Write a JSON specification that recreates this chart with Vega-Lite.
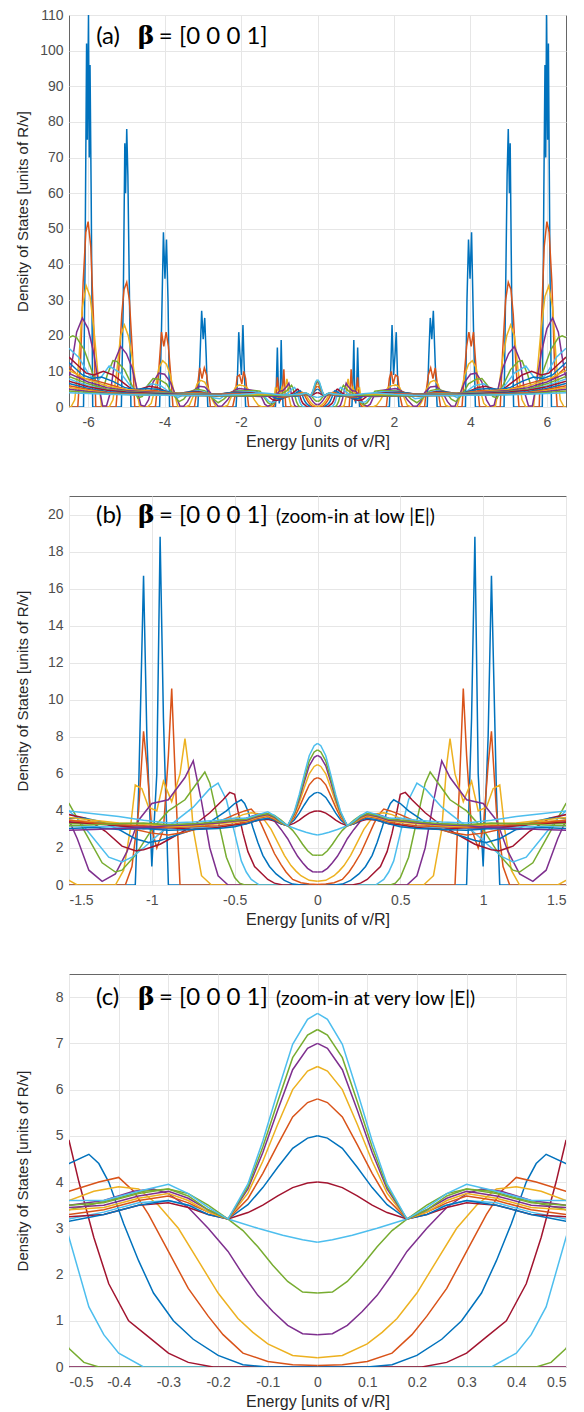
{
"$schema":"https://vega.github.io/schema/vega-lite/v6.json",
"background":"white",
"padding":{"left":14,"top":7,"right":10,"bottom":0},
"spacing":89,
"bounds":"flush",
"config":{
 "view":{"stroke":"#666666","strokeWidth":1},
 "axis":{"grid":true,"gridColor":"#e6e6e6","ticks":false,"domain":false,"labelOverlap":false,"labelFont":"Liberation Sans","labelFontSize":14,"labelColor":"#4d4d4d","titleFont":"Liberation Sans","titleFontSize":16,"titleFontWeight":"normal","titleColor":"#262626"},
 "axisX":{"labelPadding":8,"titlePadding":4},
 "axisY":{"labelPadding":6,"titleFontSize":15}
},
"datasets":{"dos":[
{"s":1,"x":0,"n":0,"y":0},{"s":1,"x":0.9,"n":-0.9,"y":0},{"s":1,"x":0.93,"n":-0.93,"y":9},{"s":1,"x":0.95,"n":-0.95,"y":18.8},{"s":1,"x":0.97,"n":-0.97,"y":6},{"s":1,"x":1,"n":-1,"y":1},{"s":1,"x":1.03,"n":-1.03,"y":8},{"s":1,"x":1.05,"n":-1.05,"y":16.7},{"s":1,"x":1.08,"n":-1.08,"y":5},{"s":1,"x":1.1,"n":-1.1,"y":0},
{"s":1,"x":1.88,"n":-1.88,"y":0},{"s":1,"x":1.92,"n":-1.92,"y":12},{"s":1,"x":1.95,"n":-1.95,"y":23},{"s":1,"x":1.99,"n":-1.99,"y":9},{"s":1,"x":2.03,"n":-2.03,"y":15},{"s":1,"x":2.06,"n":-2.06,"y":21},{"s":1,"x":2.1,"n":-2.1,"y":6},{"s":1,"x":2.13,"n":-2.13,"y":0},
{"s":1,"x":2.87,"n":-2.87,"y":0},{"s":1,"x":2.91,"n":-2.91,"y":14},{"s":1,"x":2.95,"n":-2.95,"y":25},{"s":1,"x":2.99,"n":-2.99,"y":19},{"s":1,"x":3.03,"n":-3.03,"y":27},{"s":1,"x":3.08,"n":-3.08,"y":12},{"s":1,"x":3.13,"n":-3.13,"y":0},
{"s":1,"x":3.87,"n":-3.87,"y":0},{"s":1,"x":3.91,"n":-3.91,"y":30},{"s":1,"x":3.95,"n":-3.95,"y":47},{"s":1,"x":3.99,"n":-3.99,"y":36},{"s":1,"x":4.03,"n":-4.03,"y":49},{"s":1,"x":4.08,"n":-4.08,"y":22},{"s":1,"x":4.13,"n":-4.13,"y":0},
{"s":1,"x":4.88,"n":-4.88,"y":0},{"s":1,"x":4.93,"n":-4.93,"y":40},{"s":1,"x":4.96,"n":-4.96,"y":65},{"s":1,"x":4.99,"n":-4.99,"y":78},{"s":1,"x":5.02,"n":-5.02,"y":60},{"s":1,"x":5.04,"n":-5.04,"y":74},{"s":1,"x":5.08,"n":-5.08,"y":30},{"s":1,"x":5.13,"n":-5.13,"y":0},
{"s":1,"x":5.88,"n":-5.88,"y":0},{"s":1,"x":5.92,"n":-5.92,"y":60},{"s":1,"x":5.95,"n":-5.95,"y":96},{"s":1,"x":5.97,"n":-5.97,"y":70},{"s":1,"x":5.99,"n":-5.99,"y":110},{"s":1,"x":6.02,"n":-6.02,"y":75},{"s":1,"x":6.04,"n":-6.04,"y":102},{"s":1,"x":6.08,"n":-6.08,"y":40},{"s":1,"x":6.12,"n":-6.12,"y":0},{"s":1,"x":6.5,"n":-6.5,"y":0},
{"s":2,"x":0,"n":0,"y":0},{"s":2,"x":0.83,"n":-0.83,"y":0},{"s":2,"x":0.855,"n":-0.855,"y":5},{"s":2,"x":0.88,"n":-0.88,"y":10.6},{"s":2,"x":0.9,"n":-0.9,"y":7},{"s":2,"x":0.93,"n":-0.93,"y":3},{"s":2,"x":0.97,"n":-0.97,"y":2},{"s":2,"x":1,"n":-1,"y":3},{"s":2,"x":1.03,"n":-1.03,"y":6.5},{"s":2,"x":1.05,"n":-1.05,"y":8.3},{"s":2,"x":1.08,"n":-1.08,"y":4},{"s":2,"x":1.12,"n":-1.12,"y":1},{"s":2,"x":1.16,"n":-1.16,"y":0},
{"s":2,"x":1.8,"n":-1.8,"y":0},{"s":2,"x":1.84,"n":-1.84,"y":4},{"s":2,"x":1.88,"n":-1.88,"y":8},{"s":2,"x":1.93,"n":-1.93,"y":10},{"s":2,"x":1.98,"n":-1.98,"y":6.5},{"s":2,"x":2.04,"n":-2.04,"y":9},{"s":2,"x":2.1,"n":-2.1,"y":8.5},{"s":2,"x":2.16,"n":-2.16,"y":3},{"s":2,"x":2.22,"n":-2.22,"y":0},
{"s":2,"x":2.8,"n":-2.8,"y":0},{"s":2,"x":2.85,"n":-2.85,"y":5},{"s":2,"x":2.9,"n":-2.9,"y":9},{"s":2,"x":2.96,"n":-2.96,"y":11},{"s":2,"x":3.02,"n":-3.02,"y":8},{"s":2,"x":3.08,"n":-3.08,"y":11},{"s":2,"x":3.15,"n":-3.15,"y":5},{"s":2,"x":3.22,"n":-3.22,"y":0},
{"s":2,"x":3.78,"n":-3.78,"y":0},{"s":2,"x":3.84,"n":-3.84,"y":9},{"s":2,"x":3.9,"n":-3.9,"y":17},{"s":2,"x":3.96,"n":-3.96,"y":21},{"s":2,"x":4.02,"n":-4.02,"y":17},{"s":2,"x":4.08,"n":-4.08,"y":21},{"s":2,"x":4.16,"n":-4.16,"y":9},{"s":2,"x":4.24,"n":-4.24,"y":0},
{"s":2,"x":4.78,"n":-4.78,"y":0},{"s":2,"x":4.84,"n":-4.84,"y":15},{"s":2,"x":4.92,"n":-4.92,"y":30},{"s":2,"x":4.99,"n":-4.99,"y":35},{"s":2,"x":5.06,"n":-5.06,"y":33},{"s":2,"x":5.12,"n":-5.12,"y":26},{"s":2,"x":5.2,"n":-5.2,"y":10},{"s":2,"x":5.27,"n":-5.27,"y":0},
{"s":2,"x":5.8,"n":-5.8,"y":0},{"s":2,"x":5.86,"n":-5.86,"y":25},{"s":2,"x":5.93,"n":-5.93,"y":45},{"s":2,"x":6,"n":-6,"y":52},{"s":2,"x":6.06,"n":-6.06,"y":49},{"s":2,"x":6.13,"n":-6.13,"y":35},{"s":2,"x":6.2,"n":-6.2,"y":12},{"s":2,"x":6.27,"n":-6.27,"y":0},{"s":2,"x":6.5,"n":-6.5,"y":0},
{"s":3,"x":0,"n":0,"y":0},{"s":3,"x":0.64,"n":-0.64,"y":0},{"s":3,"x":0.7,"n":-0.7,"y":0.5},{"s":3,"x":0.75,"n":-0.75,"y":3},{"s":3,"x":0.78,"n":-0.78,"y":6.5},{"s":3,"x":0.8,"n":-0.8,"y":7.9},{"s":3,"x":0.83,"n":-0.83,"y":6},{"s":3,"x":0.88,"n":-0.88,"y":4.5},{"s":3,"x":0.93,"n":-0.93,"y":5.6},{"s":3,"x":0.97,"n":-0.97,"y":4},{"s":3,"x":1.02,"n":-1.02,"y":4.2},{"s":3,"x":1.06,"n":-1.06,"y":5.2},{"s":3,"x":1.1,"n":-1.1,"y":5.4},{"s":3,"x":1.13,"n":-1.13,"y":3},{"s":3,"x":1.17,"n":-1.17,"y":0.8},{"s":3,"x":1.22,"n":-1.22,"y":0},
{"s":3,"x":1.45,"n":-1.45,"y":0},{"s":3,"x":1.55,"n":-1.55,"y":0.5},{"s":3,"x":1.65,"n":-1.65,"y":2},{"s":3,"x":1.75,"n":-1.75,"y":4},{"s":3,"x":1.85,"n":-1.85,"y":5.5},{"s":3,"x":1.95,"n":-1.95,"y":6},{"s":3,"x":2.05,"n":-2.05,"y":6.2},{"s":3,"x":2.15,"n":-2.15,"y":5.5},{"s":3,"x":2.25,"n":-2.25,"y":3},{"s":3,"x":2.35,"n":-2.35,"y":0.5},{"s":3,"x":2.45,"n":-2.45,"y":0},
{"s":3,"x":2.65,"n":-2.65,"y":0},{"s":3,"x":2.75,"n":-2.75,"y":2},{"s":3,"x":2.85,"n":-2.85,"y":5},{"s":3,"x":2.95,"n":-2.95,"y":7},{"s":3,"x":3.05,"n":-3.05,"y":7.5},{"s":3,"x":3.15,"n":-3.15,"y":6.5},{"s":3,"x":3.25,"n":-3.25,"y":3},{"s":3,"x":3.35,"n":-3.35,"y":0.5},{"s":3,"x":3.45,"n":-3.45,"y":0},
{"s":3,"x":3.65,"n":-3.65,"y":0},{"s":3,"x":3.75,"n":-3.75,"y":4},{"s":3,"x":3.85,"n":-3.85,"y":9},{"s":3,"x":3.95,"n":-3.95,"y":12},{"s":3,"x":4.05,"n":-4.05,"y":13},{"s":3,"x":4.15,"n":-4.15,"y":11},{"s":3,"x":4.25,"n":-4.25,"y":5},{"s":3,"x":4.35,"n":-4.35,"y":1},{"s":3,"x":4.45,"n":-4.45,"y":0},
{"s":3,"x":4.65,"n":-4.65,"y":0},{"s":3,"x":4.75,"n":-4.75,"y":6},{"s":3,"x":4.85,"n":-4.85,"y":14},{"s":3,"x":4.95,"n":-4.95,"y":20},{"s":3,"x":5.05,"n":-5.05,"y":23},{"s":3,"x":5.15,"n":-5.15,"y":20},{"s":3,"x":5.25,"n":-5.25,"y":10},{"s":3,"x":5.35,"n":-5.35,"y":2},{"s":3,"x":5.45,"n":-5.45,"y":0},
{"s":3,"x":5.65,"n":-5.65,"y":0},{"s":3,"x":5.75,"n":-5.75,"y":10},{"s":3,"x":5.85,"n":-5.85,"y":22},{"s":3,"x":5.95,"n":-5.95,"y":31},{"s":3,"x":6.05,"n":-6.05,"y":34},{"s":3,"x":6.15,"n":-6.15,"y":28},{"s":3,"x":6.25,"n":-6.25,"y":12},{"s":3,"x":6.35,"n":-6.35,"y":2},{"s":3,"x":6.45,"n":-6.45,"y":0},{"s":3,"x":6.5,"n":-6.5,"y":0},
{"s":4,"x":0,"n":0,"y":0},{"s":4,"x":0.54,"n":-0.54,"y":0},{"s":4,"x":0.6,"n":-0.6,"y":0.5},{"s":4,"x":0.65,"n":-0.65,"y":2},{"s":4,"x":0.7,"n":-0.7,"y":4.5},{"s":4,"x":0.75,"n":-0.75,"y":6.7},{"s":4,"x":0.8,"n":-0.8,"y":5.8},{"s":4,"x":0.9,"n":-0.9,"y":4.6},{"s":4,"x":1,"n":-1,"y":4.4},{"s":4,"x":1.08,"n":-1.08,"y":3.5},{"s":4,"x":1.15,"n":-1.15,"y":1.8},{"s":4,"x":1.22,"n":-1.22,"y":0.6},{"s":4,"x":1.3,"n":-1.3,"y":0.2},{"s":4,"x":1.38,"n":-1.38,"y":0.8},{"s":4,"x":1.45,"n":-1.45,"y":2.5},{"s":4,"x":1.5,"n":-1.5,"y":3.5},
{"s":4,"x":1.6,"n":-1.6,"y":4.5},{"s":4,"x":1.75,"n":-1.75,"y":4.8},{"s":4,"x":1.9,"n":-1.9,"y":5},{"s":4,"x":2.05,"n":-2.05,"y":5.2},{"s":4,"x":2.2,"n":-2.2,"y":4.5},{"s":4,"x":2.35,"n":-2.35,"y":2},{"s":4,"x":2.5,"n":-2.5,"y":0.3},{"s":4,"x":2.6,"n":-2.6,"y":0.2},{"s":4,"x":2.7,"n":-2.7,"y":1.5},{"s":4,"x":2.8,"n":-2.8,"y":4},{"s":4,"x":2.95,"n":-2.95,"y":5.6},{"s":4,"x":3.1,"n":-3.1,"y":5.8},{"s":4,"x":3.25,"n":-3.25,"y":4.5},{"s":4,"x":3.4,"n":-3.4,"y":1.5},{"s":4,"x":3.5,"n":-3.5,"y":0.2},{"s":4,"x":3.6,"n":-3.6,"y":0.3},{"s":4,"x":3.7,"n":-3.7,"y":3},{"s":4,"x":3.85,"n":-3.85,"y":7},{"s":4,"x":4,"n":-4,"y":9.2},{"s":4,"x":4.15,"n":-4.15,"y":9.5},{"s":4,"x":4.3,"n":-4.3,"y":7},{"s":4,"x":4.42,"n":-4.42,"y":2},{"s":4,"x":4.52,"n":-4.52,"y":0.2},{"s":4,"x":4.62,"n":-4.62,"y":0.5},{"s":4,"x":4.72,"n":-4.72,"y":5},{"s":4,"x":4.85,"n":-4.85,"y":11},{"s":4,"x":5,"n":-5,"y":15},{"s":4,"x":5.15,"n":-5.15,"y":17},{"s":4,"x":5.3,"n":-5.3,"y":13},{"s":4,"x":5.42,"n":-5.42,"y":4},{"s":4,"x":5.52,"n":-5.52,"y":0.3},{"s":4,"x":5.62,"n":-5.62,"y":0.3},{"s":4,"x":5.72,"n":-5.72,"y":6},{"s":4,"x":5.85,"n":-5.85,"y":15},{"s":4,"x":6,"n":-6,"y":22},{"s":4,"x":6.15,"n":-6.15,"y":25},{"s":4,"x":6.3,"n":-6.3,"y":21},{"s":4,"x":6.4,"n":-6.4,"y":14},{"s":4,"x":6.5,"n":-6.5,"y":8},
{"s":5,"x":0,"n":0,"y":0},{"s":5,"x":0.44,"n":-0.44,"y":0},{"s":5,"x":0.47,"n":-0.47,"y":0.1},{"s":5,"x":0.5,"n":-0.5,"y":0.4},{"s":5,"x":0.55,"n":-0.55,"y":1.5},{"s":5,"x":0.6,"n":-0.6,"y":3.5},{"s":5,"x":0.65,"n":-0.65,"y":5.5},{"s":5,"x":0.68,"n":-0.68,"y":6.1},{"s":5,"x":0.72,"n":-0.72,"y":5.6},{"s":5,"x":0.8,"n":-0.8,"y":4.6},{"s":5,"x":0.9,"n":-0.9,"y":4},{"s":5,"x":1,"n":-1,"y":3},{"s":5,"x":1.1,"n":-1.1,"y":1.6},{"s":5,"x":1.18,"n":-1.18,"y":0.8},{"s":5,"x":1.22,"n":-1.22,"y":0.7},{"s":5,"x":1.3,"n":-1.3,"y":1.2},{"s":5,"x":1.4,"n":-1.4,"y":2.8},{"s":5,"x":1.5,"n":-1.5,"y":4.4},
{"s":5,"x":1.65,"n":-1.65,"y":4.6},{"s":5,"x":1.85,"n":-1.85,"y":4.5},{"s":5,"x":2.05,"n":-2.05,"y":4.6},{"s":5,"x":2.25,"n":-2.25,"y":4.2},{"s":5,"x":2.45,"n":-2.45,"y":2.2},{"s":5,"x":2.6,"n":-2.6,"y":1.2},{"s":5,"x":2.75,"n":-2.75,"y":2.5},{"s":5,"x":2.95,"n":-2.95,"y":4.6},{"s":5,"x":3.15,"n":-3.15,"y":5},{"s":5,"x":3.35,"n":-3.35,"y":4.3},{"s":5,"x":3.5,"n":-3.5,"y":2.2},{"s":5,"x":3.62,"n":-3.62,"y":1.5},{"s":5,"x":3.78,"n":-3.78,"y":3.5},{"s":5,"x":3.95,"n":-3.95,"y":6.5},{"s":5,"x":4.15,"n":-4.15,"y":7.8},{"s":5,"x":4.3,"n":-4.3,"y":8},{"s":5,"x":4.45,"n":-4.45,"y":6},{"s":5,"x":4.58,"n":-4.58,"y":3},{"s":5,"x":4.7,"n":-4.7,"y":2.5},{"s":5,"x":4.85,"n":-4.85,"y":6},{"s":5,"x":5.05,"n":-5.05,"y":10.5},{"s":5,"x":5.25,"n":-5.25,"y":12.8},{"s":5,"x":5.35,"n":-5.35,"y":13},{"s":5,"x":5.5,"n":-5.5,"y":9},{"s":5,"x":5.62,"n":-5.62,"y":4.5},{"s":5,"x":5.75,"n":-5.75,"y":5},{"s":5,"x":5.9,"n":-5.9,"y":10},{"s":5,"x":6.1,"n":-6.1,"y":16},{"s":5,"x":6.3,"n":-6.3,"y":19.5},{"s":5,"x":6.4,"n":-6.4,"y":20},{"s":5,"x":6.5,"n":-6.5,"y":19.5},
{"s":6,"x":0,"n":0,"y":0},{"s":6,"x":0.35,"n":-0.35,"y":0},{"s":6,"x":0.4,"n":-0.4,"y":0.3},{"s":6,"x":0.43,"n":-0.43,"y":0.7},{"s":6,"x":0.46,"n":-0.46,"y":1.3},{"s":6,"x":0.5,"n":-0.5,"y":2.8},{"s":6,"x":0.55,"n":-0.55,"y":4.6},{"s":6,"x":0.6,"n":-0.6,"y":5.5},{"s":6,"x":0.65,"n":-0.65,"y":5.2},{"s":6,"x":0.75,"n":-0.75,"y":4.2},{"s":6,"x":0.85,"n":-0.85,"y":3.5},{"s":6,"x":0.95,"n":-0.95,"y":2.8},{"s":6,"x":1.05,"n":-1.05,"y":2},{"s":6,"x":1.12,"n":-1.12,"y":1.5},{"s":6,"x":1.18,"n":-1.18,"y":1.25},{"s":6,"x":1.26,"n":-1.26,"y":1.5},{"s":6,"x":1.35,"n":-1.35,"y":2.5},{"s":6,"x":1.45,"n":-1.45,"y":3.6},{"s":6,"x":1.5,"n":-1.5,"y":4},
{"s":6,"x":1.7,"n":-1.7,"y":4.3},{"s":6,"x":1.9,"n":-1.9,"y":4.3},{"s":6,"x":2.1,"n":-2.1,"y":4.4},{"s":6,"x":2.35,"n":-2.35,"y":3.8},{"s":6,"x":2.55,"n":-2.55,"y":2.3},{"s":6,"x":2.7,"n":-2.7,"y":2.5},{"s":6,"x":2.95,"n":-2.95,"y":4.2},{"s":6,"x":3.2,"n":-3.2,"y":4.6},{"s":6,"x":3.45,"n":-3.45,"y":3.8},{"s":6,"x":3.65,"n":-3.65,"y":2.6},{"s":6,"x":3.85,"n":-3.85,"y":4},{"s":6,"x":4.1,"n":-4.1,"y":6},{"s":6,"x":4.35,"n":-4.35,"y":6.5},{"s":6,"x":4.55,"n":-4.55,"y":5},{"s":6,"x":4.72,"n":-4.72,"y":3.8},{"s":6,"x":4.9,"n":-4.9,"y":6},{"s":6,"x":5.15,"n":-5.15,"y":9.5},{"s":6,"x":5.45,"n":-5.45,"y":11.5},{"s":6,"x":5.65,"n":-5.65,"y":8.5},{"s":6,"x":5.8,"n":-5.8,"y":7},{"s":6,"x":6,"n":-6,"y":9.5},{"s":6,"x":6.25,"n":-6.25,"y":14},{"s":6,"x":6.5,"n":-6.5,"y":16.5},
{"s":7,"x":0,"n":0,"y":0},{"s":7,"x":0.21,"n":-0.21,"y":0},{"s":7,"x":0.26,"n":-0.26,"y":0.1},{"s":7,"x":0.3,"n":-0.3,"y":0.3},{"s":7,"x":0.34,"n":-0.34,"y":0.65},{"s":7,"x":0.38,"n":-0.38,"y":1},{"s":7,"x":0.42,"n":-0.42,"y":1.8},{"s":7,"x":0.45,"n":-0.45,"y":2.8},{"s":7,"x":0.48,"n":-0.48,"y":4},{"s":7,"x":0.5,"n":-0.5,"y":4.9},{"s":7,"x":0.53,"n":-0.53,"y":5},{"s":7,"x":0.57,"n":-0.57,"y":4.6},{"s":7,"x":0.65,"n":-0.65,"y":3.9},{"s":7,"x":0.75,"n":-0.75,"y":3.2},{"s":7,"x":0.85,"n":-0.85,"y":2.7},{"s":7,"x":0.95,"n":-0.95,"y":2.2},{"s":7,"x":1.05,"n":-1.05,"y":1.9},{"s":7,"x":1.1,"n":-1.1,"y":1.85},{"s":7,"x":1.18,"n":-1.18,"y":2.1},{"s":7,"x":1.28,"n":-1.28,"y":2.9},{"s":7,"x":1.4,"n":-1.4,"y":3.6},{"s":7,"x":1.5,"n":-1.5,"y":3.8},
{"s":7,"x":1.7,"n":-1.7,"y":4},{"s":7,"x":1.95,"n":-1.95,"y":4.1},{"s":7,"x":2.2,"n":-2.2,"y":4.2},{"s":7,"x":2.45,"n":-2.45,"y":3.7},{"s":7,"x":2.65,"n":-2.65,"y":3},{"s":7,"x":2.85,"n":-2.85,"y":3.6},{"s":7,"x":3.05,"n":-3.05,"y":4.2},{"s":7,"x":3.25,"n":-3.25,"y":4.4},{"s":7,"x":3.5,"n":-3.5,"y":4},{"s":7,"x":3.75,"n":-3.75,"y":3.6},{"s":7,"x":4,"n":-4,"y":4.6},{"s":7,"x":4.2,"n":-4.2,"y":5.5},{"s":7,"x":4.4,"n":-4.4,"y":5.8},{"s":7,"x":4.65,"n":-4.65,"y":5},{"s":7,"x":4.85,"n":-4.85,"y":4.9},{"s":7,"x":5.1,"n":-5.1,"y":7},{"s":7,"x":5.35,"n":-5.35,"y":9},{"s":7,"x":5.6,"n":-5.6,"y":10},{"s":7,"x":5.85,"n":-5.85,"y":9},{"s":7,"x":6.05,"n":-6.05,"y":9.5},{"s":7,"x":6.3,"n":-6.3,"y":12},{"s":7,"x":6.5,"n":-6.5,"y":14},
{"s":8,"x":0,"n":0,"y":0},{"s":8,"x":0.1,"n":-0.1,"y":0},{"s":8,"x":0.15,"n":-0.15,"y":0.05},{"s":8,"x":0.2,"n":-0.2,"y":0.25},{"s":8,"x":0.25,"n":-0.25,"y":0.6},{"s":8,"x":0.29,"n":-0.29,"y":1},{"s":8,"x":0.33,"n":-0.33,"y":1.6},{"s":8,"x":0.36,"n":-0.36,"y":2.3},{"s":8,"x":0.39,"n":-0.39,"y":3.1},{"s":8,"x":0.42,"n":-0.42,"y":4},{"s":8,"x":0.44,"n":-0.44,"y":4.4},{"s":8,"x":0.46,"n":-0.46,"y":4.6},{"s":8,"x":0.5,"n":-0.5,"y":4.4},{"s":8,"x":0.55,"n":-0.55,"y":4},{"s":8,"x":0.65,"n":-0.65,"y":3.4},{"s":8,"x":0.75,"n":-0.75,"y":3},{"s":8,"x":0.85,"n":-0.85,"y":2.7},{"s":8,"x":0.95,"n":-0.95,"y":2.4},{"s":8,"x":1.02,"n":-1.02,"y":2.3},{"s":8,"x":1.1,"n":-1.1,"y":2.5},{"s":8,"x":1.2,"n":-1.2,"y":3},{"s":8,"x":1.3,"n":-1.3,"y":3.4},{"s":8,"x":1.4,"n":-1.4,"y":3.6},{"s":8,"x":1.5,"n":-1.5,"y":3.6},
{"s":8,"x":1.8,"n":-1.8,"y":3.8},{"s":8,"x":2.1,"n":-2.1,"y":4},{"s":8,"x":2.35,"n":-2.35,"y":4},{"s":8,"x":2.6,"n":-2.6,"y":3.5},{"s":8,"x":2.85,"n":-2.85,"y":3.6},{"s":8,"x":3.1,"n":-3.1,"y":4.1},{"s":8,"x":3.35,"n":-3.35,"y":4.2},{"s":8,"x":3.65,"n":-3.65,"y":3.8},{"s":8,"x":3.9,"n":-3.9,"y":4.2},{"s":8,"x":4.2,"n":-4.2,"y":5},{"s":8,"x":4.5,"n":-4.5,"y":5.2},{"s":8,"x":4.8,"n":-4.8,"y":4.9},{"s":8,"x":5.05,"n":-5.05,"y":5.5},{"s":8,"x":5.35,"n":-5.35,"y":7.2},{"s":8,"x":5.65,"n":-5.65,"y":8.4},{"s":8,"x":5.9,"n":-5.9,"y":8},{"s":8,"x":6.15,"n":-6.15,"y":9},{"s":8,"x":6.5,"n":-6.5,"y":12.5},
{"s":9,"x":0,"n":0,"y":0.03},{"s":9,"x":0.05,"n":-0.05,"y":0.05},{"s":9,"x":0.1,"n":-0.1,"y":0.12},{"s":9,"x":0.15,"n":-0.15,"y":0.3},{"s":9,"x":0.19,"n":-0.19,"y":0.7},{"s":9,"x":0.22,"n":-0.22,"y":1.1},{"s":9,"x":0.26,"n":-0.26,"y":1.7},{"s":9,"x":0.3,"n":-0.3,"y":2.5},{"s":9,"x":0.34,"n":-0.34,"y":3.3},{"s":9,"x":0.37,"n":-0.37,"y":3.8},{"s":9,"x":0.4,"n":-0.4,"y":4.1},{"s":9,"x":0.44,"n":-0.44,"y":4},{"s":9,"x":0.5,"n":-0.5,"y":3.8},{"s":9,"x":0.6,"n":-0.6,"y":3.4},{"s":9,"x":0.7,"n":-0.7,"y":3.1},{"s":9,"x":0.8,"n":-0.8,"y":2.85},{"s":9,"x":0.9,"n":-0.9,"y":2.7},{"s":9,"x":1,"n":-1,"y":2.8},{"s":9,"x":1.1,"n":-1.1,"y":3},{"s":9,"x":1.2,"n":-1.2,"y":3.2},{"s":9,"x":1.35,"n":-1.35,"y":3.4},{"s":9,"x":1.5,"n":-1.5,"y":3.5},
{"s":9,"x":1.8,"n":-1.8,"y":3.7},{"s":9,"x":2.1,"n":-2.1,"y":3.8},{"s":9,"x":2.4,"n":-2.4,"y":3.8},{"s":9,"x":2.7,"n":-2.7,"y":3.6},{"s":9,"x":3,"n":-3,"y":3.9},{"s":9,"x":3.3,"n":-3.3,"y":4},{"s":9,"x":3.6,"n":-3.6,"y":3.8},{"s":9,"x":3.9,"n":-3.9,"y":4.1},{"s":9,"x":4.3,"n":-4.3,"y":4.6},{"s":9,"x":4.7,"n":-4.7,"y":4.7},{"s":9,"x":5,"n":-5,"y":4.9},{"s":9,"x":5.4,"n":-5.4,"y":6.2},{"s":9,"x":5.8,"n":-5.8,"y":7.4},{"s":9,"x":6.2,"n":-6.2,"y":8.2},{"s":9,"x":6.5,"n":-6.5,"y":11.3},
{"s":10,"x":0,"n":0,"y":0.2},{"s":10,"x":0.05,"n":-0.05,"y":0.25},{"s":10,"x":0.1,"n":-0.1,"y":0.5},{"s":10,"x":0.13,"n":-0.13,"y":0.75},{"s":10,"x":0.16,"n":-0.16,"y":1.05},{"s":10,"x":0.2,"n":-0.2,"y":1.6},{"s":10,"x":0.24,"n":-0.24,"y":2.3},{"s":10,"x":0.28,"n":-0.28,"y":3},{"s":10,"x":0.32,"n":-0.32,"y":3.5},{"s":10,"x":0.36,"n":-0.36,"y":3.85},{"s":10,"x":0.4,"n":-0.4,"y":3.9},{"s":10,"x":0.45,"n":-0.45,"y":3.8},{"s":10,"x":0.5,"n":-0.5,"y":3.6},{"s":10,"x":0.6,"n":-0.6,"y":3.4},{"s":10,"x":0.8,"n":-0.8,"y":3.2},{"s":10,"x":1,"n":-1,"y":3.1},{"s":10,"x":1.2,"n":-1.2,"y":3.25},{"s":10,"x":1.35,"n":-1.35,"y":3.4},{"s":10,"x":1.5,"n":-1.5,"y":3.5},{"s":10,"x":2,"n":-2,"y":3.6},{"s":10,"x":2.5,"n":-2.5,"y":3.6},{"s":10,"x":3,"n":-3,"y":3.8},{"s":10,"x":3.5,"n":-3.5,"y":3.8},{"s":10,"x":4,"n":-4,"y":4.1},{"s":10,"x":4.5,"n":-4.5,"y":4.5},{"s":10,"x":5,"n":-5,"y":4.9},{"s":10,"x":5.5,"n":-5.5,"y":5.9},{"s":10,"x":6,"n":-6,"y":7.6},{"s":10,"x":6.5,"n":-6.5,"y":10.3},
{"s":11,"x":0,"n":0,"y":0.7},{"s":11,"x":0.03,"n":-0.03,"y":0.72},{"s":11,"x":0.06,"n":-0.06,"y":0.9},{"s":11,"x":0.09,"n":-0.09,"y":1.2},{"s":11,"x":0.12,"n":-0.12,"y":1.55},{"s":11,"x":0.15,"n":-0.15,"y":2},{"s":11,"x":0.18,"n":-0.18,"y":2.5},{"s":11,"x":0.22,"n":-0.22,"y":3},{"s":11,"x":0.26,"n":-0.26,"y":3.45},{"s":11,"x":0.3,"n":-0.3,"y":3.75},{"s":11,"x":0.33,"n":-0.33,"y":3.85},{"s":11,"x":0.37,"n":-0.37,"y":3.8},{"s":11,"x":0.43,"n":-0.43,"y":3.6},{"s":11,"x":0.5,"n":-0.5,"y":3.5},{"s":11,"x":0.7,"n":-0.7,"y":3.3},{"s":11,"x":0.9,"n":-0.9,"y":3.2},{"s":11,"x":1.1,"n":-1.1,"y":3.15},{"s":11,"x":1.3,"n":-1.3,"y":3.3},{"s":11,"x":1.5,"n":-1.5,"y":3.4},{"s":11,"x":2,"n":-2,"y":3.5},{"s":11,"x":2.5,"n":-2.5,"y":3.55},{"s":11,"x":3,"n":-3,"y":3.7},{"s":11,"x":3.5,"n":-3.5,"y":3.75},{"s":11,"x":4,"n":-4,"y":4},{"s":11,"x":4.5,"n":-4.5,"y":4.3},{"s":11,"x":5,"n":-5,"y":4.6},{"s":11,"x":5.5,"n":-5.5,"y":5.4},{"s":11,"x":6,"n":-6,"y":7},{"s":11,"x":6.5,"n":-6.5,"y":9.4},
{"s":12,"x":0,"n":0,"y":1.6},{"s":12,"x":0.03,"n":-0.03,"y":1.62},{"s":12,"x":0.06,"n":-0.06,"y":1.85},{"s":12,"x":0.09,"n":-0.09,"y":2.2},{"s":12,"x":0.12,"n":-0.12,"y":2.6},{"s":12,"x":0.15,"n":-0.15,"y":2.95},{"s":12,"x":0.18,"n":-0.18,"y":3.2},{"s":12,"x":0.22,"n":-0.22,"y":3.5},{"s":12,"x":0.26,"n":-0.26,"y":3.75},{"s":12,"x":0.3,"n":-0.3,"y":3.85},{"s":12,"x":0.35,"n":-0.35,"y":3.8},{"s":12,"x":0.42,"n":-0.42,"y":3.6},{"s":12,"x":0.5,"n":-0.5,"y":3.4},{"s":12,"x":0.7,"n":-0.7,"y":3.3},{"s":12,"x":0.9,"n":-0.9,"y":3.25},{"s":12,"x":1.1,"n":-1.1,"y":3.3},{"s":12,"x":1.3,"n":-1.3,"y":3.35},{"s":12,"x":1.5,"n":-1.5,"y":3.3},{"s":12,"x":2,"n":-2,"y":3.4},{"s":12,"x":2.5,"n":-2.5,"y":3.5},{"s":12,"x":3,"n":-3,"y":3.6},{"s":12,"x":3.5,"n":-3.5,"y":3.7},{"s":12,"x":4,"n":-4,"y":3.9},{"s":12,"x":4.5,"n":-4.5,"y":4.1},{"s":12,"x":5,"n":-5,"y":4.4},{"s":12,"x":5.5,"n":-5.5,"y":5},{"s":12,"x":6,"n":-6,"y":6.5},{"s":12,"x":6.5,"n":-6.5,"y":8.6},
{"s":13,"x":0,"n":0,"y":2.7},{"s":13,"x":0.03,"n":-0.03,"y":2.75},{"s":13,"x":0.07,"n":-0.07,"y":2.85},{"s":13,"x":0.12,"n":-0.12,"y":3},{"s":13,"x":0.18,"n":-0.18,"y":3.2},{"s":13,"x":0.24,"n":-0.24,"y":3.45},{"s":13,"x":0.3,"n":-0.3,"y":3.6},{"s":13,"x":0.36,"n":-0.36,"y":3.55},{"s":13,"x":0.43,"n":-0.43,"y":3.35},{"s":13,"x":0.5,"n":-0.5,"y":3.2},{"s":13,"x":0.7,"n":-0.7,"y":3.1},{"s":13,"x":0.9,"n":-0.9,"y":3.05},{"s":13,"x":1.1,"n":-1.1,"y":3.1},{"s":13,"x":1.3,"n":-1.3,"y":3.15},{"s":13,"x":1.5,"n":-1.5,"y":3.2},{"s":13,"x":2,"n":-2,"y":3.3},{"s":13,"x":2.5,"n":-2.5,"y":3.4},{"s":13,"x":3,"n":-3,"y":3.5},{"s":13,"x":3.5,"n":-3.5,"y":3.6},{"s":13,"x":4,"n":-4,"y":3.8},{"s":13,"x":4.5,"n":-4.5,"y":3.95},{"s":13,"x":5,"n":-5,"y":4.2},{"s":13,"x":5.5,"n":-5.5,"y":4.7},{"s":13,"x":6,"n":-6,"y":6},{"s":13,"x":6.5,"n":-6.5,"y":7.9},
{"s":14,"x":0,"n":0,"y":4},{"s":14,"x":0.02,"n":-0.02,"y":3.98},{"s":14,"x":0.05,"n":-0.05,"y":3.88},{"s":14,"x":0.08,"n":-0.08,"y":3.7},{"s":14,"x":0.11,"n":-0.11,"y":3.5},{"s":14,"x":0.14,"n":-0.14,"y":3.34},{"s":14,"x":0.18,"n":-0.18,"y":3.2},{"s":14,"x":0.22,"n":-0.22,"y":3.3},{"s":14,"x":0.26,"n":-0.26,"y":3.45},{"s":14,"x":0.3,"n":-0.3,"y":3.55},{"s":14,"x":0.36,"n":-0.36,"y":3.5},{"s":14,"x":0.43,"n":-0.43,"y":3.3},{"s":14,"x":0.5,"n":-0.5,"y":3.25},{"s":14,"x":0.6,"n":-0.6,"y":3.1},{"s":14,"x":0.75,"n":-0.75,"y":3},{"s":14,"x":0.9,"n":-0.9,"y":3.1},{"s":14,"x":1.05,"n":-1.05,"y":3.05},{"s":14,"x":1.2,"n":-1.2,"y":3.2},{"s":14,"x":1.35,"n":-1.35,"y":3.3},{"s":14,"x":1.5,"n":-1.5,"y":3.4},{"s":14,"x":2,"n":-2,"y":3.3},{"s":14,"x":2.5,"n":-2.5,"y":3.35},{"s":14,"x":3,"n":-3,"y":3.4},{"s":14,"x":3.5,"n":-3.5,"y":3.5},{"s":14,"x":4,"n":-4,"y":3.7},{"s":14,"x":4.5,"n":-4.5,"y":3.9},{"s":14,"x":5,"n":-5,"y":4.2},{"s":14,"x":5.5,"n":-5.5,"y":4.7},{"s":14,"x":6,"n":-6,"y":5.7},{"s":14,"x":6.5,"n":-6.5,"y":7.2},
{"s":15,"x":0,"n":0,"y":5},{"s":15,"x":0.02,"n":-0.02,"y":4.95},{"s":15,"x":0.05,"n":-0.05,"y":4.73},{"s":15,"x":0.08,"n":-0.08,"y":4.32},{"s":15,"x":0.11,"n":-0.11,"y":3.88},{"s":15,"x":0.14,"n":-0.14,"y":3.51},{"s":15,"x":0.18,"n":-0.18,"y":3.2},{"s":15,"x":0.22,"n":-0.22,"y":3.3},{"s":15,"x":0.26,"n":-0.26,"y":3.5},{"s":15,"x":0.3,"n":-0.3,"y":3.6},{"s":15,"x":0.36,"n":-0.36,"y":3.5},{"s":15,"x":0.43,"n":-0.43,"y":3.3},{"s":15,"x":0.5,"n":-0.5,"y":3.15},{"s":15,"x":0.6,"n":-0.6,"y":3.05},{"s":15,"x":0.75,"n":-0.75,"y":3},{"s":15,"x":0.9,"n":-0.9,"y":2.95},{"s":15,"x":1.05,"n":-1.05,"y":3.05},{"s":15,"x":1.2,"n":-1.2,"y":3},{"s":15,"x":1.35,"n":-1.35,"y":3.1},{"s":15,"x":1.5,"n":-1.5,"y":3.05},{"s":15,"x":2,"n":-2,"y":3.15},{"s":15,"x":2.5,"n":-2.5,"y":3.25},{"s":15,"x":3,"n":-3,"y":3.3},{"s":15,"x":3.5,"n":-3.5,"y":3.4},{"s":15,"x":4,"n":-4,"y":3.55},{"s":15,"x":4.5,"n":-4.5,"y":3.7},{"s":15,"x":5,"n":-5,"y":3.9},{"s":15,"x":5.5,"n":-5.5,"y":4.3},{"s":15,"x":6,"n":-6,"y":5.2},{"s":15,"x":6.5,"n":-6.5,"y":6.6},
{"s":16,"x":0,"n":0,"y":5.8},{"s":16,"x":0.02,"n":-0.02,"y":5.72},{"s":16,"x":0.05,"n":-0.05,"y":5.41},{"s":16,"x":0.08,"n":-0.08,"y":4.81},{"s":16,"x":0.11,"n":-0.11,"y":4.19},{"s":16,"x":0.14,"n":-0.14,"y":3.64},{"s":16,"x":0.18,"n":-0.18,"y":3.2},{"s":16,"x":0.22,"n":-0.22,"y":3.35},{"s":16,"x":0.26,"n":-0.26,"y":3.55},{"s":16,"x":0.3,"n":-0.3,"y":3.7},{"s":16,"x":0.36,"n":-0.36,"y":3.6},{"s":16,"x":0.43,"n":-0.43,"y":3.4},{"s":16,"x":0.5,"n":-0.5,"y":3.3},{"s":16,"x":0.6,"n":-0.6,"y":3.2},{"s":16,"x":0.75,"n":-0.75,"y":3.15},{"s":16,"x":0.9,"n":-0.9,"y":3.1},{"s":16,"x":1.05,"n":-1.05,"y":3.2},{"s":16,"x":1.2,"n":-1.2,"y":3.25},{"s":16,"x":1.35,"n":-1.35,"y":3.35},{"s":16,"x":1.5,"n":-1.5,"y":3.5},{"s":16,"x":2,"n":-2,"y":3.25},{"s":16,"x":2.5,"n":-2.5,"y":3.2},{"s":16,"x":3,"n":-3,"y":3.25},{"s":16,"x":3.5,"n":-3.5,"y":3.35},{"s":16,"x":4,"n":-4,"y":3.45},{"s":16,"x":4.5,"n":-4.5,"y":3.6},{"s":16,"x":5,"n":-5,"y":3.75},{"s":16,"x":5.5,"n":-5.5,"y":4.1},{"s":16,"x":6,"n":-6,"y":4.9},{"s":16,"x":6.5,"n":-6.5,"y":6},
{"s":17,"x":0,"n":0,"y":6.5},{"s":17,"x":0.02,"n":-0.02,"y":6.4},{"s":17,"x":0.05,"n":-0.05,"y":6},{"s":17,"x":0.08,"n":-0.08,"y":5.25},{"s":17,"x":0.11,"n":-0.11,"y":4.45},{"s":17,"x":0.14,"n":-0.14,"y":3.76},{"s":17,"x":0.18,"n":-0.18,"y":3.2},{"s":17,"x":0.22,"n":-0.22,"y":3.35},{"s":17,"x":0.26,"n":-0.26,"y":3.6},{"s":17,"x":0.3,"n":-0.3,"y":3.75},{"s":17,"x":0.36,"n":-0.36,"y":3.65},{"s":17,"x":0.43,"n":-0.43,"y":3.45},{"s":17,"x":0.5,"n":-0.5,"y":3.4},{"s":17,"x":0.6,"n":-0.6,"y":3.3},{"s":17,"x":0.75,"n":-0.75,"y":3.2},{"s":17,"x":0.9,"n":-0.9,"y":3.15},{"s":17,"x":1.05,"n":-1.05,"y":3.3},{"s":17,"x":1.2,"n":-1.2,"y":3.35},{"s":17,"x":1.35,"n":-1.35,"y":3.5},{"s":17,"x":1.5,"n":-1.5,"y":3.65},{"s":17,"x":2,"n":-2,"y":3.3},{"s":17,"x":2.5,"n":-2.5,"y":3.2},{"s":17,"x":3,"n":-3,"y":3.2},{"s":17,"x":3.5,"n":-3.5,"y":3.3},{"s":17,"x":4,"n":-4,"y":3.4},{"s":17,"x":4.5,"n":-4.5,"y":3.5},{"s":17,"x":5,"n":-5,"y":3.65},{"s":17,"x":5.5,"n":-5.5,"y":3.95},{"s":17,"x":6,"n":-6,"y":4.6},{"s":17,"x":6.5,"n":-6.5,"y":5.5},
{"s":18,"x":0,"n":0,"y":7},{"s":18,"x":0.02,"n":-0.02,"y":6.89},{"s":18,"x":0.05,"n":-0.05,"y":6.43},{"s":18,"x":0.08,"n":-0.08,"y":5.56},{"s":18,"x":0.11,"n":-0.11,"y":4.64},{"s":18,"x":0.14,"n":-0.14,"y":3.85},{"s":18,"x":0.18,"n":-0.18,"y":3.2},{"s":18,"x":0.22,"n":-0.22,"y":3.4},{"s":18,"x":0.26,"n":-0.26,"y":3.65},{"s":18,"x":0.3,"n":-0.3,"y":3.8},{"s":18,"x":0.36,"n":-0.36,"y":3.7},{"s":18,"x":0.43,"n":-0.43,"y":3.5},{"s":18,"x":0.5,"n":-0.5,"y":3.45},{"s":18,"x":0.6,"n":-0.6,"y":3.35},{"s":18,"x":0.75,"n":-0.75,"y":3.25},{"s":18,"x":0.9,"n":-0.9,"y":3.2},{"s":18,"x":1.05,"n":-1.05,"y":3.1},{"s":18,"x":1.2,"n":-1.2,"y":3.05},{"s":18,"x":1.35,"n":-1.35,"y":3},{"s":18,"x":1.5,"n":-1.5,"y":2.95},{"s":18,"x":2,"n":-2,"y":3.1},{"s":18,"x":2.5,"n":-2.5,"y":3.15},{"s":18,"x":3,"n":-3,"y":3.2},{"s":18,"x":3.5,"n":-3.5,"y":3.25},{"s":18,"x":4,"n":-4,"y":3.35},{"s":18,"x":4.5,"n":-4.5,"y":3.45},{"s":18,"x":5,"n":-5,"y":3.6},{"s":18,"x":5.5,"n":-5.5,"y":3.85},{"s":18,"x":6,"n":-6,"y":4.35},{"s":18,"x":6.5,"n":-6.5,"y":5},
{"s":19,"x":0,"n":0,"y":7.3},{"s":19,"x":0.02,"n":-0.02,"y":7.18},{"s":19,"x":0.05,"n":-0.05,"y":6.69},{"s":19,"x":0.08,"n":-0.08,"y":5.74},{"s":19,"x":0.11,"n":-0.11,"y":4.76},{"s":19,"x":0.14,"n":-0.14,"y":3.9},{"s":19,"x":0.18,"n":-0.18,"y":3.2},{"s":19,"x":0.22,"n":-0.22,"y":3.4},{"s":19,"x":0.26,"n":-0.26,"y":3.7},{"s":19,"x":0.3,"n":-0.3,"y":3.85},{"s":19,"x":0.36,"n":-0.36,"y":3.75},{"s":19,"x":0.43,"n":-0.43,"y":3.55},{"s":19,"x":0.5,"n":-0.5,"y":3.5},{"s":19,"x":0.6,"n":-0.6,"y":3.4},{"s":19,"x":0.75,"n":-0.75,"y":3.3},{"s":19,"x":0.9,"n":-0.9,"y":3.25},{"s":19,"x":1.05,"n":-1.05,"y":3.35},{"s":19,"x":1.2,"n":-1.2,"y":3.3},{"s":19,"x":1.35,"n":-1.35,"y":3.25},{"s":19,"x":1.5,"n":-1.5,"y":3.2},{"s":19,"x":2,"n":-2,"y":3.15},{"s":19,"x":2.5,"n":-2.5,"y":3.15},{"s":19,"x":3,"n":-3,"y":3.2},{"s":19,"x":3.5,"n":-3.5,"y":3.2},{"s":19,"x":4,"n":-4,"y":3.3},{"s":19,"x":4.5,"n":-4.5,"y":3.4},{"s":19,"x":5,"n":-5,"y":3.5},{"s":19,"x":5.5,"n":-5.5,"y":3.7},{"s":19,"x":6,"n":-6,"y":4.1},{"s":19,"x":6.5,"n":-6.5,"y":4.5},
{"s":20,"x":0,"n":0,"y":7.65},{"s":20,"x":0.02,"n":-0.02,"y":7.52},{"s":20,"x":0.05,"n":-0.05,"y":6.98},{"s":20,"x":0.08,"n":-0.08,"y":5.96},{"s":20,"x":0.11,"n":-0.11,"y":4.89},{"s":20,"x":0.14,"n":-0.14,"y":3.96},{"s":20,"x":0.18,"n":-0.18,"y":3.2},{"s":20,"x":0.22,"n":-0.22,"y":3.45},{"s":20,"x":0.26,"n":-0.26,"y":3.75},{"s":20,"x":0.3,"n":-0.3,"y":3.95},{"s":20,"x":0.36,"n":-0.36,"y":3.8},{"s":20,"x":0.43,"n":-0.43,"y":3.6},{"s":20,"x":0.5,"n":-0.5,"y":3.6},{"s":20,"x":0.6,"n":-0.6,"y":3.5},{"s":20,"x":0.75,"n":-0.75,"y":3.4},{"s":20,"x":0.9,"n":-0.9,"y":3.35},{"s":20,"x":1.05,"n":-1.05,"y":3.5},{"s":20,"x":1.2,"n":-1.2,"y":3.7},{"s":20,"x":1.35,"n":-1.35,"y":3.85},{"s":20,"x":1.5,"n":-1.5,"y":4},{"s":20,"x":2,"n":-2,"y":3.5},{"s":20,"x":2.5,"n":-2.5,"y":3.3},{"s":20,"x":3,"n":-3,"y":3.25},{"s":20,"x":3.5,"n":-3.5,"y":3.25},{"s":20,"x":4,"n":-4,"y":3.3},{"s":20,"x":4.5,"n":-4.5,"y":3.35},{"s":20,"x":5,"n":-5,"y":3.45},{"s":20,"x":5.5,"n":-5.5,"y":3.6},{"s":20,"x":6,"n":-6,"y":3.8},{"s":20,"x":6.5,"n":-6.5,"y":4}
]},
"vconcat":[
{"width":497,"height":392,
 "layer":[
  {"data":{"name":"dos"},"mark":{"type":"line","clip":true,"strokeWidth":1.5},
   "encoding":{"x":{"field":"x","type":"quantitative","scale":{"domain":[-6.5,6.5],"nice":false,"zero":false},"axis":{"values":[-6,-4,-2,0,2,4,6],"labelExpr":"'' + datum.value","title":"Energy [units of v/R]"}},
    "y":{"field":"y","type":"quantitative","scale":{"domain":[0,110],"nice":false},"axis":{"values":[0,10,20,30,40,50,60,70,80,90,100,110],"title":"Density of States [units of R/v]","titlePadding":9}},
    "color":{"field":"s","type":"nominal","legend":null,"scale":{"domain":[1,2,3,4,5,6,7,8,9,10,11,12,13,14,15,16,17,18,19,20],"range":["#0072BD","#D95319","#EDB120","#7E2F8E","#77AC30","#4DBEEE","#A2142F","#0072BD","#D95319","#EDB120","#7E2F8E","#77AC30","#4DBEEE","#A2142F","#0072BD","#D95319","#EDB120","#7E2F8E","#77AC30","#4DBEEE"]}}}},
  {"data":{"name":"dos"},"mark":{"type":"line","clip":true,"strokeWidth":1.5},
   "encoding":{"x":{"field":"n","type":"quantitative","scale":{"domain":[-6.5,6.5],"nice":false,"zero":false},"axis":{"values":[-6,-4,-2,0,2,4,6],"labelExpr":"'' + datum.value","title":"Energy [units of v/R]"}},
    "y":{"field":"y","type":"quantitative","scale":{"domain":[0,110],"nice":false},"axis":{"values":[0,10,20,30,40,50,60,70,80,90,100,110],"title":"Density of States [units of R/v]","titlePadding":9}},
    "color":{"field":"s","type":"nominal","legend":null}}},
  {"data":{"values":[{"t":"(a)"}]},"mark":{"type":"text","align":"left","baseline":"alphabetic","font":"Lato","fontSize":24,"color":"#000000"},
   "encoding":{"x":{"datum":-5.79,"type":"quantitative","axis":{"values":[-6,-4,-2,0,2,4,6],"labelExpr":"'' + datum.value","title":"Energy [units of v/R]"}},"y":{"datum":101.9,"type":"quantitative","axis":{"values":[0,10,20,30,40,50,60,70,80,90,100,110],"title":"Density of States [units of R/v]","titlePadding":9}},"text":{"field":"t"}}},
  {"data":{"values":[{"t":"β"}]},"mark":{"type":"text","align":"left","baseline":"alphabetic","font":"DejaVu Serif","fontWeight":"bold","fontSize":25,"color":"#000000"},
   "encoding":{"x":{"datum":-4.7,"type":"quantitative","axis":{"values":[-6,-4,-2,0,2,4,6],"labelExpr":"'' + datum.value","title":"Energy [units of v/R]"}},"y":{"datum":101.9,"type":"quantitative","axis":{"values":[0,10,20,30,40,50,60,70,80,90,100,110],"title":"Density of States [units of R/v]","titlePadding":9}},"text":{"field":"t"}}},
  {"data":{"values":[{"t":"= [0 0 0 1]"}]},"mark":{"type":"text","align":"left","baseline":"alphabetic","font":"Lato","fontSize":24,"color":"#000000"},
   "encoding":{"x":{"datum":-4.15,"type":"quantitative","axis":{"values":[-6,-4,-2,0,2,4,6],"labelExpr":"'' + datum.value","title":"Energy [units of v/R]"}},"y":{"datum":101.9,"type":"quantitative","axis":{"values":[0,10,20,30,40,50,60,70,80,90,100,110],"title":"Density of States [units of R/v]","titlePadding":9}},"text":{"field":"t"}}}
 ]},
{"width":497,"height":389,
 "layer":[
  {"data":{"name":"dos"},"mark":{"type":"line","clip":true,"strokeWidth":1.5},
   "encoding":{"x":{"field":"x","type":"quantitative","scale":{"domain":[-1.5,1.5],"nice":false,"zero":false},"axis":{"values":[-1.5,-1,-0.5,0,0.5,1,1.5],"labelExpr":"'' + datum.value","title":"Energy [units of v/R]"}},
    "y":{"field":"y","type":"quantitative","scale":{"domain":[0,21],"nice":false},"axis":{"values":[0,2,4,6,8,10,12,14,16,18,20],"title":"Density of States [units of R/v]","titlePadding":17}},
    "color":{"field":"s","type":"nominal","legend":null,"scale":{"domain":[1,2,3,4,5,6,7,8,9,10,11,12,13,14,15,16,17,18,19,20],"range":["#0072BD","#D95319","#EDB120","#7E2F8E","#77AC30","#4DBEEE","#A2142F","#0072BD","#D95319","#EDB120","#7E2F8E","#77AC30","#4DBEEE","#A2142F","#0072BD","#D95319","#EDB120","#7E2F8E","#77AC30","#4DBEEE"]}}}},
  {"data":{"name":"dos"},"mark":{"type":"line","clip":true,"strokeWidth":1.5},
   "encoding":{"x":{"field":"n","type":"quantitative","scale":{"domain":[-1.5,1.5],"nice":false,"zero":false},"axis":{"values":[-1.5,-1,-0.5,0,0.5,1,1.5],"labelExpr":"'' + datum.value","title":"Energy [units of v/R]"}},
    "y":{"field":"y","type":"quantitative","scale":{"domain":[0,21],"nice":false},"axis":{"values":[0,2,4,6,8,10,12,14,16,18,20],"title":"Density of States [units of R/v]","titlePadding":17}},
    "color":{"field":"s","type":"nominal","legend":null}}},
  {"data":{"values":[{"t":"(b)"}]},"mark":{"type":"text","align":"left","baseline":"alphabetic","font":"Lato","fontSize":24,"color":"#000000"},
   "encoding":{"x":{"datum":-1.337,"type":"quantitative","axis":{"values":[-1.5,-1,-0.5,0,0.5,1,1.5],"labelExpr":"'' + datum.value","title":"Energy [units of v/R]"}},"y":{"datum":19.55,"type":"quantitative","axis":{"values":[0,2,4,6,8,10,12,14,16,18,20],"title":"Density of States [units of R/v]","titlePadding":17}},"text":{"field":"t"}}},
  {"data":{"values":[{"t":"β"}]},"mark":{"type":"text","align":"left","baseline":"alphabetic","font":"DejaVu Serif","fontWeight":"bold","fontSize":25,"color":"#000000"},
   "encoding":{"x":{"datum":-1.0835,"type":"quantitative","axis":{"values":[-1.5,-1,-0.5,0,0.5,1,1.5],"labelExpr":"'' + datum.value","title":"Energy [units of v/R]"}},"y":{"datum":19.55,"type":"quantitative","axis":{"values":[0,2,4,6,8,10,12,14,16,18,20],"title":"Density of States [units of R/v]","titlePadding":17}},"text":{"field":"t"}}},
  {"data":{"values":[{"t":"= [0 0 0 1]"}]},"mark":{"type":"text","align":"left","baseline":"alphabetic","font":"Lato","fontSize":24,"color":"#000000"},
   "encoding":{"x":{"datum":-0.957,"type":"quantitative","axis":{"values":[-1.5,-1,-0.5,0,0.5,1,1.5],"labelExpr":"'' + datum.value","title":"Energy [units of v/R]"}},"y":{"datum":19.55,"type":"quantitative","axis":{"values":[0,2,4,6,8,10,12,14,16,18,20],"title":"Density of States [units of R/v]","titlePadding":17}},"text":{"field":"t"}}},
  {"data":{"values":[{"t":"(zoom-in at low |E|)"}]},"mark":{"type":"text","align":"left","baseline":"alphabetic","font":"Lato","fontSize":19,"color":"#000000"},
   "encoding":{"x":{"datum":-0.2505,"type":"quantitative","axis":{"values":[-1.5,-1,-0.5,0,0.5,1,1.5],"labelExpr":"'' + datum.value","title":"Energy [units of v/R]"}},"y":{"datum":19.55,"type":"quantitative","axis":{"values":[0,2,4,6,8,10,12,14,16,18,20],"title":"Density of States [units of R/v]","titlePadding":17}},"text":{"field":"t"}}}
 ]},
{"width":497,"height":393,
 "layer":[
  {"data":{"name":"dos"},"mark":{"type":"line","clip":true,"strokeWidth":1.5},
   "encoding":{"x":{"field":"x","type":"quantitative","scale":{"domain":[-0.5,0.5],"nice":false,"zero":false},"axis":{"values":[-0.5,-0.4,-0.3,-0.2,-0.1,0,0.1,0.2,0.3,0.4,0.5],"labelExpr":"'' + datum.value","title":"Energy [units of v/R]"}},
    "y":{"field":"y","type":"quantitative","scale":{"domain":[0,8.5],"nice":false},"axis":{"values":[0,1,2,3,4,5,6,7,8],"title":"Density of States [units of R/v]","titlePadding":25}},
    "color":{"field":"s","type":"nominal","legend":null,"scale":{"domain":[1,2,3,4,5,6,7,8,9,10,11,12,13,14,15,16,17,18,19,20],"range":["#0072BD","#D95319","#EDB120","#7E2F8E","#77AC30","#4DBEEE","#A2142F","#0072BD","#D95319","#EDB120","#7E2F8E","#77AC30","#4DBEEE","#A2142F","#0072BD","#D95319","#EDB120","#7E2F8E","#77AC30","#4DBEEE"]}}}},
  {"data":{"name":"dos"},"mark":{"type":"line","clip":true,"strokeWidth":1.5},
   "encoding":{"x":{"field":"n","type":"quantitative","scale":{"domain":[-0.5,0.5],"nice":false,"zero":false},"axis":{"values":[-0.5,-0.4,-0.3,-0.2,-0.1,0,0.1,0.2,0.3,0.4,0.5],"labelExpr":"'' + datum.value","title":"Energy [units of v/R]"}},
    "y":{"field":"y","type":"quantitative","scale":{"domain":[0,8.5],"nice":false},"axis":{"values":[0,1,2,3,4,5,6,7,8],"title":"Density of States [units of R/v]","titlePadding":25}},
    "color":{"field":"s","type":"nominal","legend":null}}},
  {"data":{"values":[{"t":"(c)"}]},"mark":{"type":"text","align":"left","baseline":"alphabetic","font":"Lato","fontSize":24,"color":"#000000"},
   "encoding":{"x":{"datum":-0.4457,"type":"quantitative","axis":{"values":[-0.5,-0.4,-0.3,-0.2,-0.1,0,0.1,0.2,0.3,0.4,0.5],"labelExpr":"'' + datum.value","title":"Energy [units of v/R]"}},"y":{"datum":7.83,"type":"quantitative","axis":{"values":[0,1,2,3,4,5,6,7,8],"title":"Density of States [units of R/v]","titlePadding":25}},"text":{"field":"t"}}},
  {"data":{"values":[{"t":"β"}]},"mark":{"type":"text","align":"left","baseline":"alphabetic","font":"DejaVu Serif","fontWeight":"bold","fontSize":25,"color":"#000000"},
   "encoding":{"x":{"datum":-0.3612,"type":"quantitative","axis":{"values":[-0.5,-0.4,-0.3,-0.2,-0.1,0,0.1,0.2,0.3,0.4,0.5],"labelExpr":"'' + datum.value","title":"Energy [units of v/R]"}},"y":{"datum":7.83,"type":"quantitative","axis":{"values":[0,1,2,3,4,5,6,7,8],"title":"Density of States [units of R/v]","titlePadding":25}},"text":{"field":"t"}}},
  {"data":{"values":[{"t":"= [0 0 0 1]"}]},"mark":{"type":"text","align":"left","baseline":"alphabetic","font":"Lato","fontSize":24,"color":"#000000"},
   "encoding":{"x":{"datum":-0.319,"type":"quantitative","axis":{"values":[-0.5,-0.4,-0.3,-0.2,-0.1,0,0.1,0.2,0.3,0.4,0.5],"labelExpr":"'' + datum.value","title":"Energy [units of v/R]"}},"y":{"datum":7.83,"type":"quantitative","axis":{"values":[0,1,2,3,4,5,6,7,8],"title":"Density of States [units of R/v]","titlePadding":25}},"text":{"field":"t"}}},
  {"data":{"values":[{"t":"(zoom-in at very low |E|)"}]},"mark":{"type":"text","align":"left","baseline":"alphabetic","font":"Lato","fontSize":19,"color":"#000000"},
   "encoding":{"x":{"datum":-0.0835,"type":"quantitative","axis":{"values":[-0.5,-0.4,-0.3,-0.2,-0.1,0,0.1,0.2,0.3,0.4,0.5],"labelExpr":"'' + datum.value","title":"Energy [units of v/R]"}},"y":{"datum":7.83,"type":"quantitative","axis":{"values":[0,1,2,3,4,5,6,7,8],"title":"Density of States [units of R/v]","titlePadding":25}},"text":{"field":"t"}}}
 ]}
]
}
